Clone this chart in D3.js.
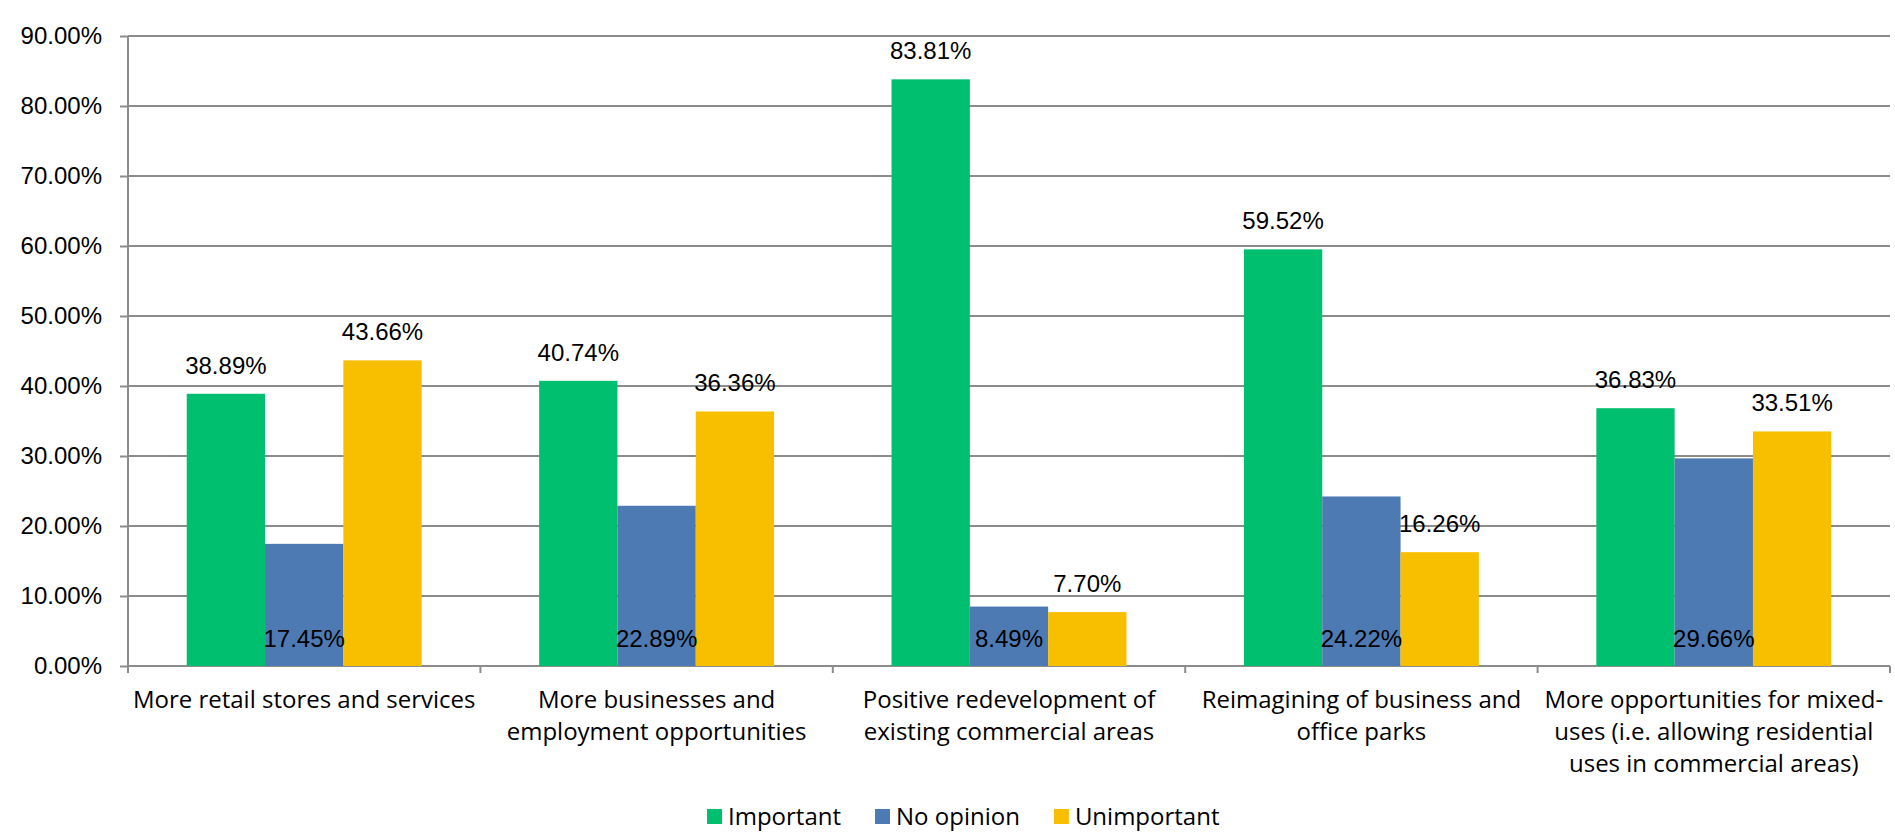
<!DOCTYPE html>
<html>
<head>
<meta charset="utf-8">
<script src="https://cdn.jsdelivr.net/npm/d3@7"></script>
<style>
  html, body { margin: 0; padding: 0; background: #fff; }
  svg { display: block; }
</style>
</head>
<body>
<svg id="chart" width="1895" height="833"></svg>
<script>
const categories = [
  ["More retail stores and services"],
  ["More businesses and", "employment opportunities"],
  ["Positive redevelopment of", "existing commercial areas"],
  ["Reimagining of business and", "office parks"],
  ["More opportunities for mixed-", "uses (i.e. allowing residential", "uses in commercial areas)"]
];
const seriesNames = ["Important", "No opinion", "Unimportant"];
const important   = [38.89, 40.74, 83.81, 59.52, 36.83];
const noOpinion   = [17.45, 22.89, 8.49, 24.22, 29.66];
const unimportant = [43.66, 36.36, 7.70, 16.26, 33.51];
const yTicks = [0, 10, 20, 30, 40, 50, 60, 70, 80, 90];
const colors = ["#00BF6F", "#4E7AB3", "#F8BE00"];

(function () {
const seriesValues = [important, noOpinion, unimportant];
const svg = d3.select("#chart");
const mLeft = 128, mRight = 1890, mTop = 36, mBottom = 666;
const numFont = "'Liberation Sans', Arial, sans-serif";
const txtFont = "'Open Sans', sans-serif";

const catIdx = categories.map((d, i) => i);
const x0 = d3.scaleBand().domain(catIdx).range([mLeft, mRight]).paddingInner(0).paddingOuter(0);
const bw = x0.bandwidth();
const x1 = d3.scaleBand().domain(seriesNames).range([bw / 6, bw * 5 / 6]).padding(0);
const y = d3.scaleLinear().domain([0, 90]).range([mBottom, mTop]);

// gridlines + y axis
const yAxis = d3.axisLeft(y).tickValues(yTicks).tickSize(8).tickPadding(18)
  .tickFormat(d => d.toFixed(2) + "%");
const gy = svg.append("g").attr("transform", `translate(${mLeft},0)`).call(yAxis);
gy.select(".domain").remove();
gy.selectAll(".tick line").attr("stroke", "#8c8c8c").attr("stroke-width", 2);
gy.selectAll(".tick text").attr("font-family", numFont).attr("font-size", 24).attr("fill", "#000");
svg.append("g").selectAll("line").data(yTicks).join("line")
  .attr("x1", mLeft).attr("x2", mRight)
  .attr("y1", d => y(d)).attr("y2", d => y(d))
  .attr("stroke", "#8c8c8c").attr("stroke-width", 2);

// bars
const groups = svg.append("g").selectAll("g").data(catIdx).join("g")
  .attr("transform", d => `translate(${x0(d)},0)`);
groups.selectAll("rect").data(ci => seriesNames.map((s, si) => ({s, si, v: seriesValues[si][ci]})))
  .join("rect")
  .attr("x", d => x1(d.s)).attr("width", x1.bandwidth())
  .attr("y", d => y(d.v)).attr("height", d => y(0) - y(d.v))
  .attr("fill", d => colors[d.si]);

// y axis line and x axis ticks
svg.append("line").attr("x1", mLeft).attr("x2", mLeft).attr("y1", mTop).attr("y2", mBottom + 7)
  .attr("stroke", "#8c8c8c").attr("stroke-width", 2);
const xTickPos = catIdx.map(i => x0(i)).concat([mRight]);
svg.append("g").selectAll("line").data(xTickPos).join("line")
  .attr("x1", d => d).attr("x2", d => d).attr("y1", mBottom).attr("y2", mBottom + 7)
  .attr("stroke", "#8c8c8c").attr("stroke-width", 2);

// data labels
groups.selectAll("text.lbl").data(ci => seriesNames.map((s, si) => ({s, si, v: seriesValues[si][ci]})))
  .join("text").attr("class", "lbl")
  .attr("x", d => x1(d.s) + x1.bandwidth() / 2)
  .attr("y", d => d.si === 1 ? y(0) - 19 : y(d.v) - 20)
  .attr("text-anchor", "middle")
  .attr("font-family", numFont).attr("font-size", 24).attr("fill", "#000")
  .text(d => d.v.toFixed(2) + "%");

// category labels
const cl = svg.append("g").selectAll("text").data(catIdx).join("text")
  .attr("x", d => x0(d) + bw / 2)
  .attr("y", 708)
  .attr("text-anchor", "middle")
  .attr("font-family", txtFont).attr("font-size", 24).attr("fill", "#000");
cl.selectAll("tspan").data(d => categories[d].map((t, k) => ({t, k, c: d}))).join("tspan")
  .attr("x", d => x0(d.c) + bw / 2)
  .attr("dy", d => d.k === 0 ? 0 : 32)
  .text(d => d.t);

// legend
const legend = svg.append("g");
let lx = 707;
seriesNames.forEach((s, i) => {
  legend.append("rect").attr("x", lx).attr("y", 809).attr("width", 15).attr("height", 15).attr("fill", colors[i]);
  const t = legend.append("text").attr("x", lx + 21).attr("y", 825)
    .attr("font-family", txtFont).attr("font-size", 24).attr("fill", "#000").text(s);
  lx += 21 + t.node().getComputedTextLength() + 34;
});
})();
</script>
</body>
</html>
